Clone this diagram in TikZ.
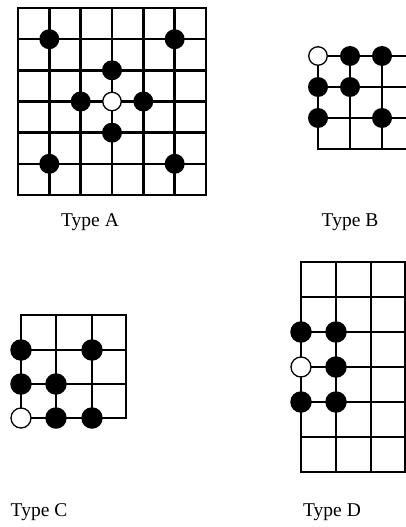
\documentclass[tikz,border=0pt]{standalone}
\usepackage{fontspec}
\setmainfont{Liberation Serif}
\begin{document}
\begin{tikzpicture}[x=1pt,y=-1pt,
  gridline/.style={line width=2.6pt, line cap=rect},
  blk/.style={circle, fill=black, inner sep=0pt, minimum size=#1},
  blk/.default=20,
  wht/.style={circle, fill=white, draw=black, line width=1.3pt, inner sep=0pt, minimum size=#1},
  wht/.default=18.5,
  lbl/.style={font=\fontsize{19.5}{21}\selectfont, inner sep=0pt}]
\useasboundingbox (0,0) rectangle (406,527);
% ---------- Type A ----------
\foreach \x in {18,49.3,80.7,112,143.3,174.7,206} \draw[gridline] (\x,8) -- (\x,195);
\foreach \y in {8,39.2,70.3,101.5,132.7,163.8,195} \draw[gridline] (18,\y) -- (206,\y);
\node[blk] (a1) at (49.3,39.2) {};
\node[blk] (a2) at (174.7,39.2) {};
\node[blk] (a3) at (112,70.3) {};
\node[blk] (a4) at (80.7,101.5) {};
\node[wht] (a5) at (112,101.5) {};
\node[blk] (a6) at (143.3,101.5) {};
\node[blk] (a7) at (112,132.7) {};
\node[blk] (a8) at (49.3,163.8) {};
\node[blk] (a9) at (174.7,163.8) {};
\node[lbl] (la) at (90,222) {Type A};
% ---------- Type B ----------
\foreach \x in {318,350,382} \draw[gridline] (\x,56) -- (\x,149);
\foreach \y in {56,87,118,149} \draw[gridline] (318,\y) -- (407,\y);
\node[wht] (b1) at (318,56) {};
\node[blk] (b2) at (350,56) {};
\node[blk] (b3) at (382,56) {};
\node[blk] (b4) at (318,87) {};
\node[blk] (b5) at (350,87) {};
\node[blk] (b6) at (318,118) {};
\node[blk] (b7) at (382,118) {};
\node[lbl] (lb) at (350,222) {Type B};
% ---------- Type C ----------
\foreach \x in {21,56,92,126} \draw[gridline] (\x,315) -- (\x,418);
\foreach \y in {315,350,384,418} \draw[gridline] (21,\y) -- (126,\y);
\node[blk=21.5] (c1) at (21,350) {};
\node[blk=21.5] (c2) at (92,350) {};
\node[blk=21.5] (c3) at (21,384) {};
\node[blk=21.5] (c4) at (56,384) {};
\node[wht=20] (c5) at (21,418) {};
\node[blk=21.5] (c6) at (56,418) {};
\node[blk=21.5] (c7) at (92,418) {};
\node[lbl] (lc) at (39,512) {Type C};
% ---------- Type D ----------
\foreach \x in {301,336,371,405} \draw[gridline] (\x,262) -- (\x,472);
\foreach \y in {262,297,332,367,402,437,472} \draw[gridline] (301,\y) -- (405,\y);
\node[blk=21.5] (d1) at (301,332) {};
\node[blk=21.5] (d2) at (336,332) {};
\node[wht=20] (d3) at (301,367) {};
\node[blk=21.5] (d4) at (336,367) {};
\node[blk=21.5] (d5) at (301,402) {};
\node[blk=21.5] (d6) at (336,402) {};
\node[lbl] (ld) at (332,512) {Type D};
\end{tikzpicture}
\end{document}
